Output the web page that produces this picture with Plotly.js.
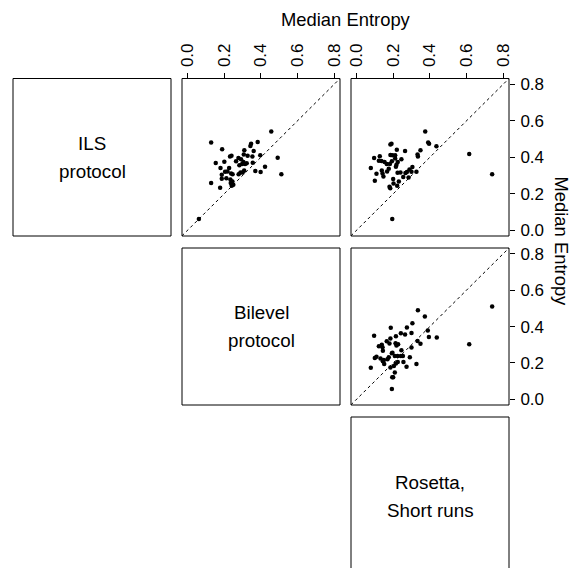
<!DOCTYPE html>
<html>
<head>
<meta charset="utf-8">
<script src="https://cdn.plot.ly/plotly-3.0.1.min.js"></script>
<style>html,body{margin:0;padding:0;background:#fff;}#chart{width:571px;height:568px;}</style>
</head>
<body>
<div id="chart"></div>
<script>
// ---- data ----
var varNames = [["ILS", "protocol"], ["Bilevel", "protocol"], ["Rosetta,", "Short runs"]];
var tickVals = [0, 0.2, 0.4, 0.6, 0.8];
var tickText = ["0.0", "0.2", "0.4", "0.6", "0.8"];
var axisTitle = "Median Entropy";
var diagLine = [-0.1, 1.0];

// Panel row1/col2 : x = Bilevel, y = ILS
var bilevelA = [0.457,0.129,0.383,0.347,0.343,0.189,0.361,0.310,0.240,0.232,0.307,0.328,0.354,0.397,0.492,0.278,0.292,0.265,0.201,0.154,0.305,0.298,0.314,0.323,0.283,0.356,0.423,0.180,0.227,0.370,0.399,0.309,0.301,0.205,0.218,0.238,0.246,0.187,0.279,0.289,0.512,0.187,0.212,0.234,0.245,0.236,0.129,0.250,0.241,0.178,0.062];
var ilsA = [0.541,0.481,0.484,0.475,0.462,0.444,0.435,0.439,0.409,0.405,0.415,0.409,0.404,0.411,0.398,0.396,0.389,0.378,0.376,0.369,0.374,0.363,0.363,0.367,0.356,0.371,0.349,0.341,0.341,0.325,0.319,0.328,0.317,0.321,0.323,0.312,0.308,0.305,0.308,0.317,0.308,0.283,0.286,0.279,0.268,0.259,0.259,0.250,0.244,0.233,0.062];

// Panel row1/col3 : x = Rosetta, y = ILS
var rosettaB = [0.375,0.191,0.185,0.391,0.396,0.436,0.220,0.265,0.349,0.333,0.335,0.185,0.196,0.211,0.127,0.096,0.122,0.136,0.153,0.165,0.182,0.193,0.211,0.225,0.245,0.218,0.215,0.078,0.109,0.138,0.142,0.147,0.167,0.176,0.305,0.289,0.300,0.327,0.224,0.240,0.267,0.275,0.255,0.284,0.200,0.100,0.231,0.202,0.222,0.180,0.184,0.615,0.740,0.195];
var ilsB = [0.541,0.475,0.470,0.481,0.475,0.461,0.442,0.435,0.439,0.415,0.404,0.413,0.411,0.411,0.406,0.396,0.382,0.380,0.374,0.363,0.363,0.378,0.393,0.374,0.389,0.360,0.349,0.341,0.310,0.328,0.312,0.295,0.323,0.338,0.347,0.334,0.321,0.321,0.316,0.317,0.314,0.319,0.292,0.290,0.281,0.272,0.268,0.257,0.244,0.239,0.231,0.418,0.308,0.062];

// Panel row2/col3 : x = Rosetta, y = Bilevel
var rosettaC = [0.335,0.373,0.740,0.305,0.187,0.275,0.389,0.300,0.265,0.242,0.096,0.185,0.215,0.395,0.438,0.333,0.349,0.165,0.180,0.213,0.227,0.218,0.138,0.122,0.142,0.144,0.300,0.245,0.615,0.196,0.109,0.100,0.131,0.149,0.144,0.169,0.176,0.193,0.209,0.224,0.242,0.253,0.291,0.151,0.225,0.215,0.256,0.327,0.204,0.185,0.273,0.078,0.209,0.200,0.195,0.193];
var bilevelC = [0.490,0.455,0.510,0.418,0.393,0.395,0.378,0.365,0.356,0.363,0.349,0.334,0.347,0.343,0.340,0.321,0.305,0.320,0.307,0.309,0.303,0.296,0.300,0.292,0.287,0.267,0.285,0.270,0.303,0.256,0.234,0.228,0.225,0.217,0.210,0.221,0.232,0.254,0.239,0.239,0.239,0.239,0.232,0.194,0.206,0.197,0.206,0.194,0.184,0.175,0.179,0.174,0.148,0.121,0.121,0.057];

// ---- layout geometry ----
var W = 571, H = 568;
function px(x) { return x / W; }
function py(y) { return 1 - y / H; }
var cols = [[13, 171], [182, 340], [351, 509]];
var rows = [[78.5, 236], [248, 405], [417, 580]];
var xRange = [-0.03, 0.832];
var yRange = [-0.031, 0.832];
var FONT = "Liberation Sans, Arial, Helvetica, sans-serif";

function pts(x, y, xa, ya) {
  return {x: x, y: y, xaxis: xa, yaxis: ya, type: "scatter", mode: "markers",
          marker: {color: "#000", size: 4.5}, hoverinfo: "skip", showlegend: false};
}
function diag(xa, ya) {
  return {x: diagLine, y: diagLine, xaxis: xa, yaxis: ya, type: "scatter", mode: "lines",
          line: {color: "#000", width: 1, dash: "3px,3px"}, hoverinfo: "skip", showlegend: false};
}

var data = [
  diag("x", "y"), pts(bilevelA, ilsA, "x", "y"),
  diag("x2", "y2"), pts(rosettaB, ilsB, "x2", "y2"),
  diag("x3", "y3"), pts(rosettaC, bilevelC, "x3", "y3")
];

function xax(col, anchor, showTicks) {
  var a = {domain: [px(cols[col][0]), px(cols[col][1])], range: xRange, anchor: anchor,
           showgrid: false, zeroline: false, showline: false, fixedrange: true};
  if (showTicks) {
    Object.assign(a, {side: "top", tickmode: "array", tickvals: tickVals, ticktext: tickText,
      ticks: "outside", ticklen: 5, tickwidth: 1, tickcolor: "#000", tickangle: -90,
      ticklabelstandoff: 2, tickfont: {family: FONT, size: 17, color: "#000"}});
  } else {
    Object.assign(a, {showticklabels: false, ticks: ""});
  }
  return a;
}
function yax(row, anchor, showTicks) {
  var a = {domain: [py(rows[row][1]), py(rows[row][0])], range: yRange, anchor: anchor,
           showgrid: false, zeroline: false, showline: false, fixedrange: true};
  if (showTicks) {
    Object.assign(a, {side: "right", tickmode: "array", tickvals: tickVals, ticktext: tickText,
      ticks: "outside", ticklen: 5, tickwidth: 1, tickcolor: "#000", tickangle: 0,
      ticklabelstandoff: 2, tickfont: {family: FONT, size: 17, color: "#000"}});
  } else {
    Object.assign(a, {showticklabels: false, ticks: ""});
  }
  return a;
}

var shapes = [];
var boxes = [[0,0],[0,1],[0,2],[1,1],[1,2],[2,2]];
boxes.forEach(function (b) {
  var r = rows[b[0]], c = cols[b[1]];
  shapes.push({type: "rect", xref: "paper", yref: "paper",
    x0: px(c[0]), x1: px(c[1]), y0: py(r[1]), y1: py(r[0]),
    line: {color: "#000", width: 1}, fillcolor: "rgba(0,0,0,0)", layer: "above"});
});

var annotations = [];
varNames.forEach(function (name, i) {
  var cx = (cols[i][0] + cols[i][1]) / 2;
  var cy = i < 2 ? (rows[i][0] + rows[i][1]) / 2 : 496;
  annotations.push({xref: "paper", yref: "paper", x: px(cx), y: py(cy - 14), text: name[0],
    showarrow: false, xanchor: "center", yanchor: "middle",
    font: {family: FONT, size: 18.8, color: "#000"}});
  annotations.push({xref: "paper", yref: "paper", x: px(cx), y: py(cy + 14), text: name[1],
    showarrow: false, xanchor: "center", yanchor: "middle",
    font: {family: FONT, size: 18.8, color: "#000"}});
});
annotations.push({xref: "paper", yref: "paper", x: px(345.5), y: py(20), text: axisTitle,
  showarrow: false, xanchor: "center", yanchor: "middle",
  font: {family: FONT, size: 18.4, color: "#000"}});
annotations.push({xref: "paper", yref: "paper", x: px(560.5), y: py(241), text: axisTitle,
  showarrow: false, xanchor: "center", yanchor: "middle", textangle: 90,
  font: {family: FONT, size: 18.4, color: "#000"}});

var layout = {
  width: W, height: H, margin: {l: 0, r: 0, t: 0, b: 0},
  paper_bgcolor: "#fff", plot_bgcolor: "#fff", showlegend: false,
  xaxis: xax(1, "y", true), yaxis: yax(0, "x", false),
  xaxis2: xax(2, "y2", true), yaxis2: yax(0, "x2", true),
  xaxis3: xax(2, "y3", false), yaxis3: yax(1, "x3", true),
  shapes: shapes, annotations: annotations
};

Plotly.newPlot("chart", data, layout, {displayModeBar: false, staticPlot: true});
</script>
</body>
</html>
